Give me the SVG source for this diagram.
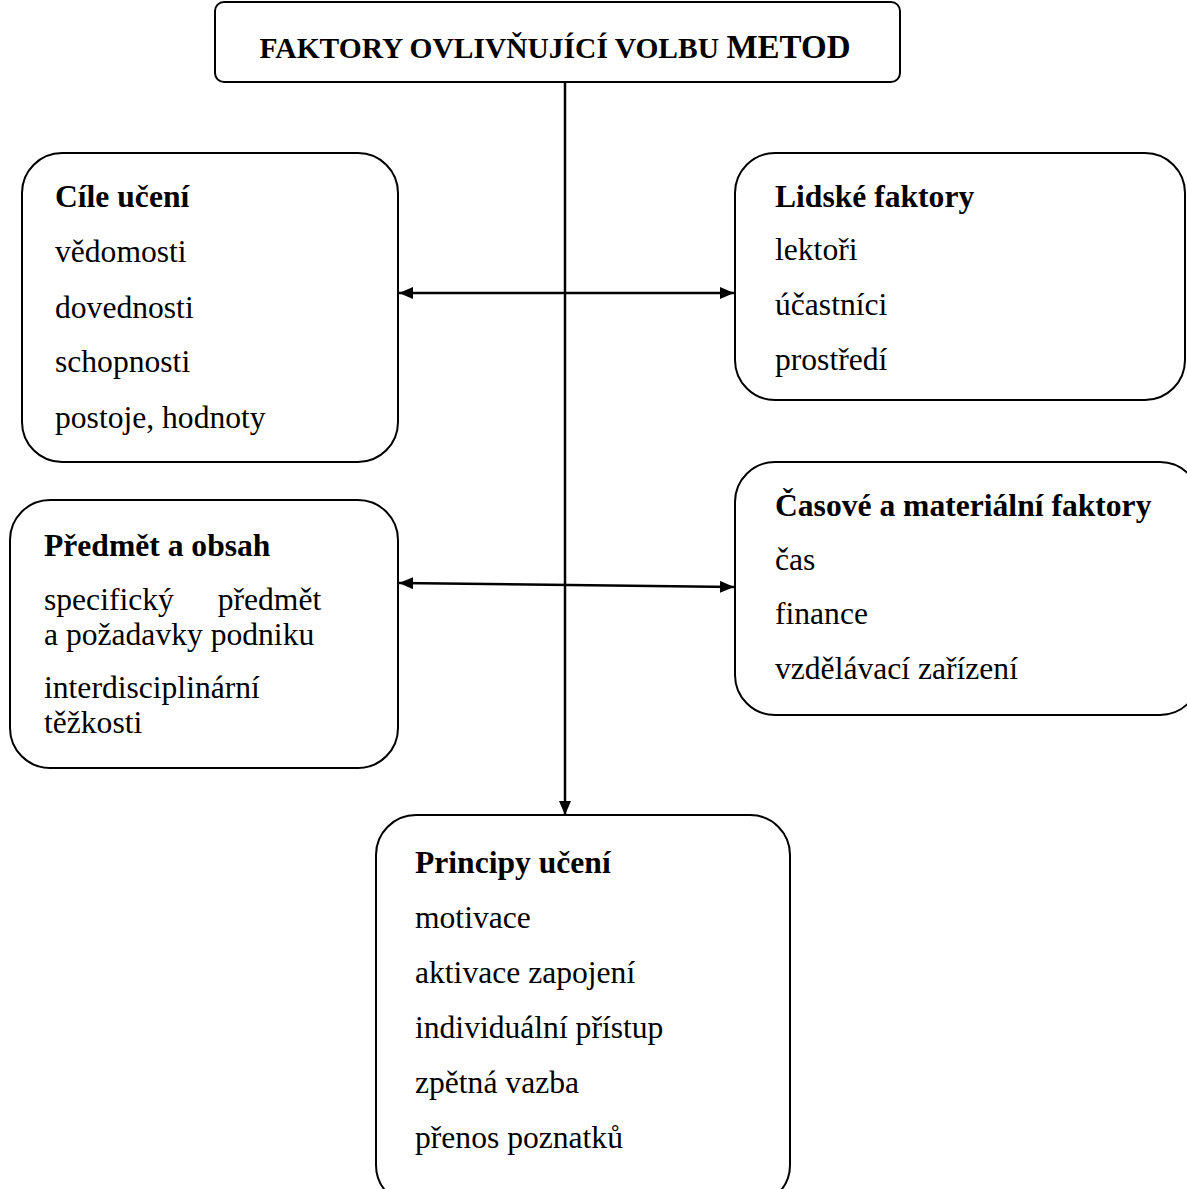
<svg xmlns="http://www.w3.org/2000/svg" width="1187" height="1189" viewBox="0 0 1187 1189">
<style>
.box{fill:#fff;stroke:#000;stroke-width:2}
.t{font-family:"Liberation Serif","Times New Roman",serif;font-size:31.6px;fill:#000}
.h{font-weight:bold}
.c{stroke:#000;stroke-width:2.5;fill:none}
</style>
<defs>
<marker id="ah" viewBox="0 0 14 12" refX="14" refY="6" markerWidth="14" markerHeight="12" markerUnits="userSpaceOnUse" orient="auto-start-reverse">
<path d="M0,0 L14,6 L0,12 z" fill="#000"/>
</marker>
</defs>
<rect width="1187" height="1189" fill="#fff"/>
<g id="connectors">
<line class="c" x1="565" y1="82" x2="565" y2="815" marker-end="url(#ah)"/>
<line class="c" x1="399" y1="293" x2="734" y2="293" marker-start="url(#ah)" marker-end="url(#ah)"/>
<line class="c" x1="399" y1="583" x2="734" y2="587" marker-start="url(#ah)" marker-end="url(#ah)"/>
</g>
<g id="title">
<rect class="box" x="215" y="2" width="685" height="80" rx="9"/>
<text class="t h" x="555" y="58" text-anchor="middle" style="font-size:29.5px">FAKTORY OVLIVŇUJÍCÍ VOLBU <tspan style="font-size:33px">METOD</tspan></text>
</g>
<g id="cile">
<rect class="box" x="22" y="153" width="376" height="309" rx="40"/>
<text class="t h" x="55" y="207">Cíle učení</text>
<text class="t" x="55" y="262">vědomosti</text>
<text class="t" x="55" y="318">dovednosti</text>
<text class="t" x="55" y="372">schopnosti</text>
<text class="t" x="55" y="428">postoje, hodnoty</text>
</g>
<g id="lidske">
<rect class="box" x="735" y="153" width="450" height="247" rx="40"/>
<text class="t h" x="775" y="207">Lidské faktory</text>
<text class="t" x="775" y="260">lektoři</text>
<text class="t" x="775" y="315">účastníci</text>
<text class="t" x="775" y="370">prostředí</text>
</g>
<g id="predmet">
<rect class="box" x="10" y="500" width="388" height="268" rx="40"/>
<text class="t h" x="44" y="556">Předmět a obsah</text>
<text class="t" x="44" y="610" word-spacing="36">specifický předmět</text>
<text class="t" x="44" y="645">a požadavky podniku</text>
<text class="t" x="44" y="698">interdisciplinární</text>
<text class="t" x="44" y="733">těžkosti</text>
</g>
<g id="casove">
<rect class="box" x="735" y="462" width="465" height="253" rx="40"/>
<text class="t h" x="775" y="516">Časové a materiální faktory</text>
<text class="t" x="775" y="570">čas</text>
<text class="t" x="775" y="624">finance</text>
<text class="t" x="775" y="679">vzdělávací zařízení</text>
</g>
<g id="principy">
<rect class="box" x="376" y="815" width="414" height="390" rx="40"/>
<text class="t h" x="415" y="873">Principy učení</text>
<text class="t" x="415" y="928">motivace</text>
<text class="t" x="415" y="983">aktivace zapojení</text>
<text class="t" x="415" y="1038">individuální přístup</text>
<text class="t" x="415" y="1093">zpětná vazba</text>
<text class="t" x="415" y="1148">přenos poznatků</text>
</g>
</svg>
